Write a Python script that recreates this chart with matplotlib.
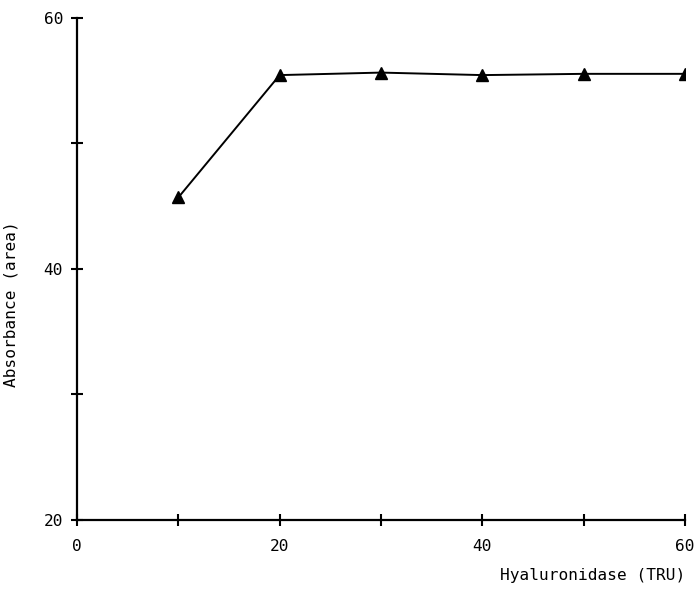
import numpy as np
import matplotlib
matplotlib.use("Agg")
import matplotlib.pyplot as plt

# Data
tru = [10, 20, 30, 40, 50, 60]
absorbance = [45.7, 55.45, 55.65, 55.45, 55.55, 55.55]

x_major = [0, 20, 40, 60]
x_minor = [10, 30, 50]
y_major = [20, 40, 60]
y_minor = [30, 50]

plt.rcParams.update({
    "font.family": "DejaVu Sans Mono",
    "font.size": 11.6,
})

fig = plt.figure(figsize=(6.95, 5.94), dpi=100)
ax = fig.add_axes([0.1108, 0.1246, 0.8748, 0.8451])

ax.plot(tru, absorbance, color="black", linewidth=1.4,
        marker="^", markersize=9, markerfacecolor="black", markeredgecolor="black")

ax.set_xlim(0, 60)
ax.set_ylim(20, 60)
ax.set_xticks(x_major)
ax.set_xticks(x_minor, minor=True)
ax.set_yticks(y_major)
ax.set_yticks(y_minor, minor=True)

for s in ("top", "right"):
    ax.spines[s].set_visible(False)
for s in ("left", "bottom"):
    ax.spines[s].set_linewidth(1.6)
    ax.spines[s].set_clip_on(False)

ax.tick_params(which="both", direction="inout", length=8, width=1.5, color="black")
ax.tick_params(axis="x", which="major", pad=10)
ax.tick_params(axis="y", which="major", pad=6)

ax.set_xlabel("Hyaluronidase (TRU)", ha="right")
ax.xaxis.set_label_coords(1.0, -0.095)
ax.set_ylabel("Absorbance (area)")
ax.yaxis.set_label_coords(-0.097, 0.43)

fig.savefig("out.png", dpi=100)
